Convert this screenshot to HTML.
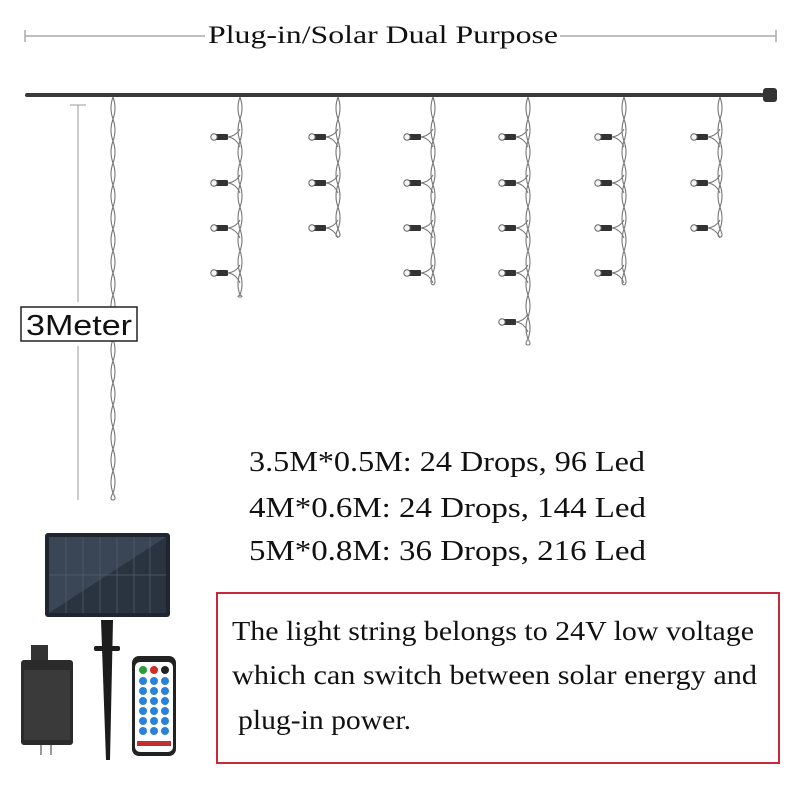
<!DOCTYPE html>
<html><head><meta charset="utf-8"><style>
html,body{margin:0;padding:0;background:#fff;width:800px;height:800px;overflow:hidden}
svg{display:block}
</style></head><body>
<svg id="s" width="800" height="800" xmlns="http://www.w3.org/2000/svg" font-family="Liberation Serif, serif">
<line x1="25" y1="36" x2="205" y2="36" stroke="#aaa" stroke-width="1.5"/>
<line x1="560" y1="36" x2="776" y2="36" stroke="#aaa" stroke-width="1.5"/>
<line x1="25" y1="30" x2="25" y2="42" stroke="#aaa" stroke-width="1.5"/>
<line x1="776" y1="30" x2="776" y2="42" stroke="#aaa" stroke-width="1.5"/>
<text x="208" y="43" font-size="25" textLength="350" lengthAdjust="spacingAndGlyphs" fill="#111">Plug-in/Solar Dual Purpose</text>
<line x1="27" y1="95" x2="765" y2="95" stroke="#3a3a3a" stroke-width="4" stroke-linecap="round"/>
<rect x="763" y="88" width="14" height="14" rx="3" fill="#333"/>
<line x1="78" y1="105" x2="78" y2="302" stroke="#aaa" stroke-width="1.2"/>
<line x1="78" y1="346" x2="78" y2="500" stroke="#aaa" stroke-width="1.2"/>
<line x1="70" y1="105" x2="86" y2="105" stroke="#aaa" stroke-width="1.2"/>
<g id="strands"></g>
<rect x="21" y="307" width="116" height="34" fill="#fff" stroke="#222" stroke-width="1.5"/>
<text x="26" y="335" font-family="Liberation Sans, sans-serif" font-size="29" textLength="106" lengthAdjust="spacingAndGlyphs" fill="#111">3Meter</text>
<g font-size="29" fill="#111">
<text x="249" y="471" textLength="396" lengthAdjust="spacingAndGlyphs">3.5M*0.5M: 24 Drops,  96 Led</text>
<text x="249" y="517" textLength="397" lengthAdjust="spacingAndGlyphs">4M*0.6M:  24 Drops,  144 Led</text>
<text x="249" y="560" textLength="397" lengthAdjust="spacingAndGlyphs">5M*0.8M:  36 Drops,  216 Led</text>
</g>
<rect x="217" y="593" width="562" height="170" fill="none" stroke="#c8283c" stroke-width="2"/>
<g font-size="27" fill="#111">
<text x="232" y="640" textLength="522" lengthAdjust="spacingAndGlyphs">The light string belongs to 24V low voltage</text>
<text x="232" y="684" textLength="525" lengthAdjust="spacingAndGlyphs">which can switch between solar energy and</text>
<text x="238" y="729" textLength="173" lengthAdjust="spacingAndGlyphs">plug-in power.</text>
</g>
<rect x="45" y="533" width="125" height="84" rx="3" fill="#1f2630"/>
<rect x="49" y="537" width="117" height="76" fill="#3a4555"/>
<polygon points="49,613 166,537 166,613" fill="#2a3340"/>
<g stroke="#55606e" stroke-width="0.7">
<line x1="49" y1="575" x2="166" y2="575"/>
<line x1="66" y1="537" x2="66" y2="613"/><line x1="83" y1="537" x2="83" y2="613"/><line x1="100" y1="537" x2="100" y2="613"/><line x1="117" y1="537" x2="117" y2="613"/><line x1="134" y1="537" x2="134" y2="613"/><line x1="150" y1="537" x2="150" y2="613"/>
</g>
<polygon points="101,620 113,620 110,760 106,760" fill="#1c1c1c"/>
<rect x="94" y="646" width="26" height="5" rx="2" fill="#1c1c1c"/>
<rect x="31" y="645" width="17" height="17" fill="#333"/>
<rect x="21" y="660" width="52" height="85" rx="3" fill="#2b2b2b"/>
<rect x="24" y="670" width="46" height="70" fill="#3a3a3a"/>
<rect x="40" y="745" width="2" height="10" fill="#999"/><rect x="50" y="745" width="2" height="10" fill="#999"/>
<rect x="132" y="656" width="44" height="100" rx="7" fill="#222"/>
<rect x="135" y="662" width="38" height="90" rx="5" fill="#fff"/>
<circle cx="143" cy="670" r="4" fill="#2a9a3a"/><circle cx="154" cy="670" r="4" fill="#d02a2a"/><circle cx="165" cy="670" r="4" fill="#222"/>
<g fill="#2a82d8" id="rb"></g>
<rect x="137" y="741" width="34" height="5" fill="#c03030"/>
</svg>
<script>
var g=document.getElementById('strands'),h='';
function tw(x,y1,y2){var p='M'+x+' '+y1,q='M'+x+' '+y1;for(var y=y1;y<y2;y+=22){var m=Math.min(y+11,y2),e=Math.min(y+22,y2);p+=' Q'+(x-4)+' '+m+' '+x+' '+e;q+=' Q'+(x+4)+' '+m+' '+x+' '+e;}
h+='<path d="'+p+'" fill="none" stroke="#777" stroke-width="1.1"/><path d="'+q+'" fill="none" stroke="#777" stroke-width="1.1"/>';}
tw(113,97,500);
var cols=[[240,4,297],[338,3,237],[433,4,285],[528,5,345],[624,4,285],[720,3,237]];
var rows=[137,183,228,273,322];
cols.forEach(function(c){var x=c[0];tw(x,97,c[2]);for(var i=0;i<c[1];i++){var y=rows[i];
h+='<path d="M'+(x-12)+' '+y+' Q'+(x-4)+' '+(y-1)+' '+x+' '+(y-8)+' M'+(x-12)+' '+y+' Q'+(x-4)+' '+(y+1)+' '+x+' '+(y+10)+'" fill="none" stroke="#777" stroke-width="1"/>';
h+='<rect x="'+(x-25)+'" y="'+(y-3)+'" width="13" height="6" rx="1" fill="#333"/>';
h+='<circle cx="'+(x-26)+'" cy="'+y+'" r="3.2" fill="#f4f4f4" stroke="#666" stroke-width="1"/>';}});
g.innerHTML=h;
var rb='';for(var r=0;r<6;r++)for(var c=0;c<3;c++)rb+='<circle cx="'+(143+c*11)+'" cy="'+(681+r*10)+'" r="4"/>';
document.getElementById('rb').innerHTML=rb;
</script>
</body></html>
